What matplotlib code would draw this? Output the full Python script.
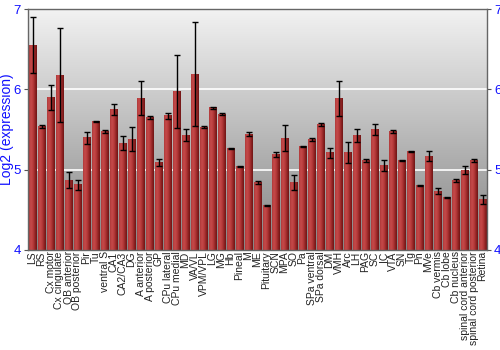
import numpy as np
import matplotlib
matplotlib.use("Agg")
import matplotlib.pyplot as plt
from matplotlib.colors import LinearSegmentedColormap

plt.rcParams['font.family'] = ['Liberation Sans', 'DejaVu Sans']

regions = ["LS", "RS", "Cx motor", "Cx cingulate", "OB anterior", "OB posterior",
           "Pir", "Tu", "ventral S", "CA1", "CA2/CA3", "DG", "A anterior",
           "A posterior", "GP", "CPu lateral", "CPu medial", "MD", "VA/VL",
           "VPM/VPL", "LG", "MG", "Hb", "Pineal", "M", "ME", "Pituitary", "SCN",
           "MPA", "SO", "Pa", "SPa ventral", "SPa dorsal", "DM", "VMH", "Arc",
           "LH", "PAG", "SC", "IC", "VTA", "SN", "Tg", "Pn", "MVe", "Cb vermis",
           "Cb lobe", "Cb nucleus", "spinal cord anterior",
           "spinal cord posterior", "Retina"]

expression = [6.55, 5.54, 5.90, 6.18, 4.87, 4.81, 5.40, 5.60, 5.48, 5.75, 5.33,
              5.38, 5.89, 5.645, 5.09, 5.67, 5.97, 5.43, 6.19, 5.53, 5.77, 5.69,
              5.26, 5.04, 5.445, 4.84, 4.555, 5.19, 5.39, 4.84, 5.29, 5.375, 5.56,
              5.21, 5.89, 5.21, 5.43, 5.11, 5.50, 5.05, 5.475, 5.11, 5.23, 4.80,
              5.17, 4.735, 4.655, 4.865, 4.99, 5.11, 4.63]

error = [0.35, 0.02, 0.155, 0.59, 0.105, 0.06, 0.075, 0.01, 0.02, 0.065, 0.085,
         0.15, 0.21, 0.02, 0.04, 0.035, 0.455, 0.075, 0.65, 0.01, 0.01, 0.015,
         0.005, 0.005, 0.02, 0.02, 0.005, 0.03, 0.16, 0.095, 0.005, 0.015, 0.02,
         0.065, 0.22, 0.13, 0.08, 0.02, 0.065, 0.07, 0.02, 0.005, 0.005, 0.01,
         0.06, 0.035, 0.005, 0.02, 0.05, 0.02, 0.06]

x = np.arange(len(regions))
width = 0.86
label_blue = "#1010ff"

fig = plt.figure(figsize=(5, 3.5), dpi=100)
ax = fig.add_axes([0.056, 0.286, 0.918, 0.688])
ax.set_xlim(-0.5, len(regions) - 0.5)
ax.set_ylim(4, 7)

# grey vertical gradient behind the bars
bg = LinearSegmentedColormap.from_list("bg", ["#858585", "#f2f2f2"])
grad = np.linspace(0, 1, 256).reshape(-1, 1)
ax.imshow(grad, cmap=bg, origin="lower", aspect="auto",
          extent=[-0.5, len(regions) - 0.5, 4, 7], zorder=0)

for yv in (5, 6):
    ax.axhline(yv, color="white", lw=1.2, zorder=1)

# red bars, lighter on the left, darker on the right edge
bar_cmap = LinearSegmentedColormap.from_list(
    "bar", ["#b03a3a", "#c54a4a", "#b83c3c", "#962626", "#6e1414"])
hgrad = np.linspace(0, 1, 64).reshape(1, -1)
for xi, v in zip(x, expression):
    ax.imshow(hgrad, cmap=bar_cmap, aspect="auto",
              extent=[xi - width / 2, xi + width / 2, 4, v], zorder=2)

ax.errorbar(x, expression, yerr=error, fmt="none", ecolor="black",
            elinewidth=1, capsize=2, capthick=1, zorder=3)

ax.set_xticks(x)
ax.set_xticklabels(regions, rotation=90, fontsize=7.5, color="#222222")
ax.tick_params(axis="x", length=0, pad=1)

ax.set_yticks([4, 5, 6, 7])
ax.tick_params(axis="y", labelsize=9.5, labelcolor=label_blue, length=3,
               color="#555555", right=True, labelright=True, pad=2)
ax.set_ylabel("Log2 (expression)", color=label_blue, fontsize=10)
ax.yaxis.set_label_coords(-0.03, 0.5)

for s in ax.spines.values():
    s.set_color("#666666")
    s.set_linewidth(1)

fig.savefig("out.png", dpi=100)
